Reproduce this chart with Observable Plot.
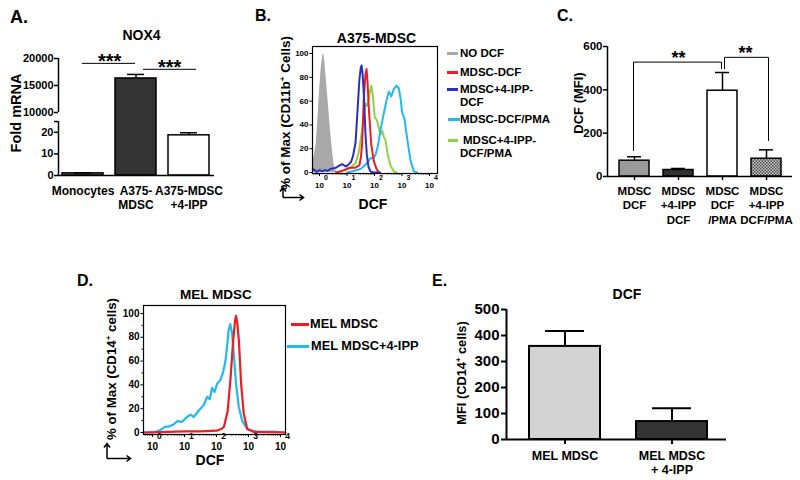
<!DOCTYPE html>
<html><head><meta charset="utf-8">
<script src="https://cdn.jsdelivr.net/npm/d3@7"></script>
<script src="https://cdn.jsdelivr.net/npm/@observablehq/plot@0.6"></script>
<style>
html,body{margin:0;padding:0;background:#fff;}
#fig{position:relative;width:800px;height:480px;overflow:hidden;font-family:"Liberation Sans",Arial,Helvetica,sans-serif;font-weight:bold;color:#000;background:#fff;}
.abs{position:absolute;white-space:nowrap;}
.rot{position:absolute;white-space:nowrap;transform:translate(-50%,-50%) rotate(-90deg);}
.sup{font-size:0.6em;vertical-align:0.6em;}
</style></head><body><div id="fig"></div>
<script>
// ---------------- DATA ----------------
// Panel A: NOX4 fold mRNA (broken y axis)
const A_CATS = ["Monocytes", "A375-\nMDSC", "A375-MDSC\n+4-IPP"];
const A_MEAN = [1, 16300, 18.6];
const A_ERR_TOP = [1.2, 17050, 19.8];
const A_LOWER_TICKS = [0, 10, 20];
const A_UPPER_TICKS = [10000, 15000, 20000];
const A_LOWER = [0, 25];
const A_UPPER = [10000, 20000];
const A_SIG = [
  {from: "Monocytes", to: "A375-\nMDSC", y: 19100, stars: "***"},
  {from: "A375-\nMDSC", to: "A375-MDSC\n+4-IPP", y: 18000, stars: "***"}
];

// Panel B: A375-MDSC histograms (x = log10 DCF, y = % of max)
const B_SERIES = ["NO DCF", "MDSC-DCF", "MDSC+4-IPP-DCF", "MDSC-DCF/PMA", "MDSC+4-IPP-DCF/PMA"];
const B_NO_DCF = [[-0.25,10],[-0.2,13],[-0.12,24],[-0.05,48],[0.0,68],[0.06,87],[0.12,99],[0.15,100],[0.2,91],[0.27,72],[0.33,55],[0.4,35],[0.47,18],[0.53,7],[0.58,2],[0.66,0]];
const B_MDSC_DCF = [[0.6,0],[0.9,2],[1.1,4],[1.3,4],[1.45,6],[1.5,12],[1.55,24],[1.61,62],[1.67,82],[1.71,87],[1.75,75],[1.79,55],[1.88,24],[1.97,10],[2.07,3],[2.16,0]];
const B_IPP_DCF = [[-0.25,3],[-0.18,2],[-0.1,0.5],[0.0,2],[0.1,1],[0.2,2],[0.3,1.5],[0.4,3],[0.52,3.5],[0.6,4],[0.7,5.5],[0.82,7],[0.9,6],[0.97,5],[1.07,7],[1.15,9],[1.22,14],[1.31,25],[1.39,55],[1.45,78],[1.5,88],[1.53,90],[1.57,82],[1.62,62],[1.67,33],[1.72,15],[1.78,5],[1.85,1],[1.95,0],[2.2,0]];
const B_DCF_PMA = [[1.0,0],[1.2,1],[1.49,3],[1.6,5],[1.73,8],[1.85,12],[1.97,12],[2.05,16],[2.12,22],[2.22,36],[2.34,50],[2.44,61],[2.52,68],[2.57,66],[2.61,64],[2.7,70],[2.8,73],[2.88,71],[2.95,62],[3.0,51],[3.09,45],[3.19,28],[3.31,10],[3.43,1],[3.55,0]];
const B_IPP_DCF_PMA = [[0.7,0],[0.9,2],[1.13,4],[1.31,8],[1.43,17],[1.55,36],[1.63,52],[1.67,58],[1.73,56],[1.79,62],[1.85,70],[1.88,73],[1.92,68],[1.95,62],[2.01,46],[2.07,45],[2.13,40],[2.22,32],[2.28,35],[2.34,30],[2.4,27],[2.48,15],[2.58,6],[2.7,1],[2.8,0]];
const PCT_TICKS = [0, 20, 40, 60, 80, 100];
const LOG_DECADES = [0, 1, 2, 3, 4];

// Panel C: DCF MFI
const C_CATS = ["MDSC\nDCF", "MDSC\n+4-IPP\nDCF", "MDSC\nDCF\n/PMA", "MDSC\n+4-IPP\nDCF/PMA"];
const C_MEAN = [73, 30, 396, 82];
const C_ERR_TOP = [91, 37, 480, 123];
const C_Y_TICKS = [0, 200, 400, 600];
const C_BRACKET_1 = [[C_CATS[0], 120], [C_CATS[0], 528], [C_CATS[2], 528], [C_CATS[2], 498]];
const C_BRACKET_2 = [[C_CATS[2], 498], [C_CATS[2], 550], [C_CATS[3], 550], [C_CATS[3], 166]];

// Panel D: MEL MDSC histograms
const D_SERIES = ["MEL MDSC", "MEL MDSC+4-IPP"];
const D_MEL = [[-0.28,0],[0.5,0.5],[1.0,1],[1.5,1],[2.0,1.5],[2.15,3],[2.23,4.5],[2.35,18],[2.44,46],[2.52,77],[2.58,94],[2.61,98],[2.65,92],[2.7,77],[2.77,41],[2.85,16],[2.96,3],[3.17,0.5],[4.15,0]];
const D_MEL_IPP = [[-0.28,0],[0.0,0],[0.1,0.5],[0.25,2],[0.4,5],[0.51,5],[0.67,7],[0.77,9.5],[0.93,9],[1.08,13],[1.19,15],[1.29,13],[1.45,18.5],[1.6,23],[1.71,30],[1.79,28],[1.86,37.5],[1.94,34],[2.02,41],[2.12,44],[2.21,51],[2.28,60],[2.33,72],[2.38,86],[2.43,91],[2.49,83],[2.54,66],[2.61,41],[2.7,21],[2.8,10],[2.96,3],[3.27,0.5],[3.8,0.8],[4.15,0]];

// Panel E: MFI CD14+
const E_CATS = ["MEL MDSC", "MEL MDSC\n+ 4-IPP"];
const E_MEAN = [358, 69];
const E_ERR_TOP = [417, 120];
const E_Y_TICKS = [0, 100, 200, 300, 400, 500];

// ---------------- STYLE ----------------
const FONT = '"Liberation Sans", Arial, Helvetica, sans-serif';
const sty = {background: "transparent", overflow: "visible", fontFamily: FONT, fontWeight: "bold", color: "#000"};
const fig = document.getElementById("fig");

function place(svg, left, top) {
  svg.style.position = "absolute";
  svg.style.left = left + "px";
  svg.style.top = top + "px";
  fig.appendChild(svg);
  return svg;
}
function txt(html, x, base, size, anchor) {
  const d = document.createElement("div");
  d.className = "abs";
  d.innerHTML = html;
  d.style.fontSize = size + "px";
  d.style.lineHeight = size + "px";
  d.style.top = (base - 0.8465 * size) + "px";
  d.style.left = x + "px";
  if (anchor === "middle") d.style.transform = "translateX(-50%)";
  fig.appendChild(d);
}
function vtxt(html, cx, cy, size) {
  const d = document.createElement("div");
  d.className = "rot";
  d.innerHTML = html;
  d.style.fontSize = size + "px";
  d.style.lineHeight = size + "px";
  d.style.left = cx + "px";
  d.style.top = cy + "px";
  fig.appendChild(d);
}
function swatch(x1, x2, y, color) {
  const d = document.createElement("div");
  d.className = "abs";
  d.style.left = x1 + "px";
  d.style.top = (y - 1.25) + "px";
  d.style.width = (x2 - x1) + "px";
  d.style.height = "2.5px";
  d.style.background = color;
  fig.appendChild(d);
}
const logMinor = [];
for (let d = -1; d < 5; d++) for (let k = 2; k < 10; k++) logMinor.push(d + Math.log10(k));

// ---------------- PANEL A (two stacked segments) ----------------
const aData = A_CATS.map((c, i) => ({cat: c, mean: A_MEAN[i], top: A_ERR_TOP[i]}));
const aW = 230, aML = 58, aMR = 16, aPI = 0.22, aPO = 0.075;
const aFrameW = aW - aML - aMR;
const aStep = aFrameW / (A_CATS.length - aPI + 2 * aPO);
const aX = {domain: A_CATS, paddingInner: aPI, paddingOuter: aPO, axis: null};
const aColor = {domain: A_CATS, range: ["#7f7f7f", "#333333", "#ffffff"]};
// upper segment: 20000 at y=58, 10000 at y=112, frame continues to y=121 (break gap)
const aUpperPxPerUnit = (112 - 58) / (A_UPPER[1] - A_UPPER[0]);
const aUpperMin = A_UPPER[0] - (121 - 112) / aUpperPxPerUnit;
place(Plot.plot({
  width: aW, height: 122, marginLeft: aML, marginRight: aMR, marginTop: 58, marginBottom: 1,
  x: aX,
  y: {domain: [aUpperMin, A_UPPER[1]], axis: null},
  color: aColor,
  style: sty,
  marks: [
    Plot.barY(aData, {x: "cat", y: "mean", fill: "cat", stroke: "#000", strokeWidth: 1.5, clip: true}),
    Plot.ruleX(aData.filter(d => d.top > A_UPPER[0]), {x: "cat", y1: "mean", y2: "top", strokeWidth: 1.5}),
    Plot.tickY(aData.filter(d => d.top > A_UPPER[0]), {x: "cat", y: "top", strokeWidth: 1.5, insetLeft: 12, insetRight: 12}),
    Plot.ruleX([A_UPPER], {x: null, y1: d => d[0], y2: d => d[1], dx: -aFrameW / 2, strokeWidth: 1.5}),
    Plot.axisY({ticks: A_UPPER_TICKS, tickFormat: d => String(d), tickSize: 4, tickPadding: 1, fontSize: 11, strokeWidth: 1.5, label: null}),
    Plot.link([A_SIG[0]], {x1: "from", x2: "to", y1: "y", y2: "y", strokeWidth: 1, dx: -1}),
    Plot.link([A_SIG[1]], {x1: "from", x2: "to", y1: "y", y2: "y", strokeWidth: 1, dx: 7}),
    Plot.text([A_SIG[0]], {x: "from", y: "y", text: "stars", dx: aStep / 2, dy: -2, fontSize: 20}),
    Plot.text([A_SIG[1]], {x: "from", y: "y", text: "stars", dx: aStep / 2 + 7, dy: -2, fontSize: 20})
  ]
}), 0, 0);
// lower segment: 0 at y=175, 25 at y=121
place(Plot.plot({
  width: aW, height: 115, marginLeft: aML, marginRight: aMR, marginTop: 21, marginBottom: 40,
  x: aX,
  y: {domain: A_LOWER, axis: null},
  color: aColor,
  style: sty,
  marks: [
    Plot.barY(aData, {x: "cat", y: "mean", fill: "cat", stroke: "#000", strokeWidth: 1.5, clip: true}),
    Plot.ruleX(aData.filter(d => d.top < A_LOWER[1]), {x: "cat", y1: "mean", y2: "top", strokeWidth: 1.5}),
    Plot.tickY(aData.filter(d => d.top < A_LOWER[1]), {x: "cat", y: "top", strokeWidth: 1.5, insetLeft: 12, insetRight: 12}),
    Plot.ruleY([0], {strokeWidth: 1.5}),
    Plot.ruleX([A_LOWER], {x: null, y1: d => d[0], y2: d => d[1], dx: -aFrameW / 2, strokeWidth: 1.5}),
    Plot.axisY({ticks: A_LOWER_TICKS, tickFormat: d => String(d), tickSize: 4, tickPadding: 1, fontSize: 11, strokeWidth: 1.5, label: null}),
    Plot.axisY({ticks: [A_LOWER[1]], tickFormat: () => "", tickSize: 4, strokeWidth: 1.5, label: null}),
    Plot.axisX({tickSize: 0, tickPadding: 10, fontSize: 12, lineHeight: 1.15, label: null})
  ]
}), 0, 100);

// ---------------- PANEL B ----------------
const B_COLORS = ["#a9a9a9", "#ee1d23", "#2b2fc4", "#22b9ee", "#8cd443"];
const bCurves = [
  {name: B_SERIES[4], pts: B_IPP_DCF_PMA},
  {name: B_SERIES[3], pts: B_DCF_PMA},
  {name: B_SERIES[1], pts: B_MDSC_DCF},
  {name: B_SERIES[2], pts: B_IPP_DCF}
];
const bFlat = bCurves.flatMap(c => c.pts.map(p => ({name: c.name, x: p[0], y: p[1]})));
const bDomX = [-0.2545, 4.29];
place(Plot.plot({
  width: 190, height: 190, marginLeft: 50, marginRight: 15, marginTop: 16, marginBottom: 47,
  x: {domain: bDomX, axis: null},
  y: {domain: [-0.84, 105.9], axis: null},
  color: {domain: B_SERIES, range: B_COLORS},
  style: sty,
  marks: [
    Plot.areaY(B_NO_DCF, {x: d => d[0], y: d => d[1], fill: () => B_SERIES[0]}),
    Plot.line(bFlat, {x: "x", y: "y", z: "name", stroke: "name", strokeWidth: 2}),
    Plot.frame({strokeWidth: 1.2}),
    Plot.axisY({ticks: PCT_TICKS, tickSize: 2.5, tickPadding: 1.5, fontSize: 8, label: null}),
    Plot.axisX({ticks: LOG_DECADES, tickFormat: () => "10", tickSize: 3, tickPadding: 6, fontSize: 8, label: null}),
    Plot.axisX({ticks: logMinor.filter(v => v > bDomX[0] && v < bDomX[1]), tickFormat: () => "", tickSize: 1.5, label: null}),
    Plot.text(LOG_DECADES, {x: d => d, text: d => String(d), frameAnchor: "bottom", dx: 6.5, dy: 6.5, fontSize: 7})
  ]
}), 262, 30);

// ---------------- PANEL C ----------------
const cData = C_CATS.map((c, i) => ({cat: c, mean: C_MEAN[i], top: C_ERR_TOP[i]}));
const cW = 280, cML = 87, cMR = 8;
const cFrameW = cW - cML - cMR;
const svgC = Plot.plot({
  width: cW, height: 230, marginLeft: cML, marginRight: cMR, marginTop: 46, marginBottom: 54,
  x: {domain: C_CATS, paddingInner: 0.32, paddingOuter: 0.26, axis: null},
  y: {domain: [0, 600], axis: null},
  color: {domain: C_CATS, range: ["#9a9a9a", "#303030", "#ffffff", "url(#hatchC)"]},
  style: sty,
  marks: [
    Plot.barY(cData, {x: "cat", y: "mean", fill: "cat", stroke: "#000", strokeWidth: 1.5}),
    Plot.ruleX(cData, {x: "cat", y1: "mean", y2: "top", strokeWidth: 1.5}),
    Plot.tickY(cData, {x: "cat", y: "top", strokeWidth: 1.5, insetLeft: 8, insetRight: 8}),
    Plot.ruleY([0], {strokeWidth: 1.5}),
    Plot.ruleX([[0, 600]], {x: null, y1: d => d[0], y2: d => d[1], dx: -cFrameW / 2, strokeWidth: 1.5}),
    Plot.axisY({ticks: C_Y_TICKS, tickSize: 4, tickPadding: 1, fontSize: 11.5, strokeWidth: 1.5, label: null}),
    Plot.axisX({tickSize: 4, tickPadding: 5, fontSize: 11.5, lineHeight: 1.22, strokeWidth: 1.5, label: null}),
    Plot.line(C_BRACKET_1, {x: d => d[0], y: d => d[1], strokeWidth: 1, dx: -1}),
    Plot.line(C_BRACKET_2, {x: d => d[0], y: d => d[1], strokeWidth: 1, dx: 2}),
    Plot.text([C_BRACKET_1[1]], {x: () => C_CATS[1], y: d => d[1], text: () => "**", dy: -4, fontSize: 18}),
    Plot.text([C_BRACKET_2[1]], {x: () => C_CATS[3], y: d => d[1], text: () => "**", dx: -21, dy: -4, fontSize: 18})
  ]
});
const defs = d3.select(svgC).insert("defs", ":first-child");
const pat = defs.append("pattern").attr("id", "hatchC").attr("width", 3).attr("height", 3).attr("patternUnits", "userSpaceOnUse");
pat.append("rect").attr("width", 3).attr("height", 3).attr("fill", "#c4c4c4");
pat.append("rect").attr("width", 1.5).attr("height", 1.5).attr("fill", "#505050");
pat.append("rect").attr("x", 1.5).attr("y", 1.5).attr("width", 1.5).attr("height", 1.5).attr("fill", "#505050");
place(svgC, 520, 0);

// ---------------- PANEL D ----------------
const D_COLORS = ["#ee1d23", "#22b9ee"];
const dFlat = [{name: D_SERIES[1], pts: D_MEL_IPP}, {name: D_SERIES[0], pts: D_MEL}]
  .flatMap(c => c.pts.map(p => ({name: c.name, x: p[0], y: p[1]})));
const dDomX = [-0.28, 4.156];
place(Plot.plot({
  width: 200, height: 180, marginLeft: 50, marginRight: 8, marginTop: 15, marginBottom: 36,
  x: {domain: dDomX, axis: null},
  y: {domain: [-1.68, 106.7], axis: null},
  color: {domain: D_SERIES, range: D_COLORS},
  style: sty,
  marks: [
    Plot.line(dFlat, {x: "x", y: "y", z: "name", stroke: "name", strokeWidth: 2.2}),
    Plot.frame({strokeWidth: 1.2}),
    Plot.axisY({ticks: PCT_TICKS, tickSize: 2.5, tickPadding: 1.5, fontSize: 10, label: null}),
    Plot.axisY({ticks: [10, 30, 50, 70, 90], tickFormat: () => "", tickSize: 1.5, label: null}),
    Plot.axisX({ticks: LOG_DECADES, tickFormat: () => "10", tickSize: 3, tickPadding: 5, fontSize: 10, label: null}),
    Plot.axisX({ticks: logMinor.filter(v => v > dDomX[0] && v < dDomX[1]), tickFormat: () => "", tickSize: 1.5, label: null}),
    Plot.text(LOG_DECADES, {x: d => d, text: d => String(d), frameAnchor: "bottom", dx: 7, dy: 4, fontSize: 8.5})
  ]
}), 93, 290);

// ---------------- PANEL E ----------------
const eData = E_CATS.map((c, i) => ({cat: c, mean: E_MEAN[i], top: E_ERR_TOP[i]}));
const eW = 310, eML = 86, eMR = 4;
const eFrameW = eW - eML - eMR;
place(Plot.plot({
  width: eW, height: 190, marginLeft: eML, marginRight: eMR, marginTop: 19, marginBottom: 41,
  x: {domain: E_CATS, paddingInner: 0.335, paddingOuter: 0.19, align: 0.56, axis: null},
  y: {domain: [0, 500], axis: null},
  color: {domain: E_CATS, range: ["#d3d3d3", "#333333"]},
  style: sty,
  marks: [
    Plot.barY(eData, {x: "cat", y: "mean", fill: "cat", stroke: "#000", strokeWidth: 2}),
    Plot.ruleX(eData, {x: "cat", y1: "mean", y2: "top", strokeWidth: 2}),
    Plot.tickY(eData, {x: "cat", y: "top", strokeWidth: 2, insetLeft: 16, insetRight: 16}),
    Plot.ruleY([0], {strokeWidth: 2}),
    Plot.ruleX([[0, 500]], {x: null, y1: d => d[0], y2: d => d[1], dx: -eFrameW / 2, strokeWidth: 2}),
    Plot.axisY({ticks: E_Y_TICKS, tickSize: 5, tickPadding: 2, fontSize: 15, strokeWidth: 2, label: null}),
    Plot.axisX({tickSize: 5, tickPadding: 6, fontSize: 12.5, lineHeight: 1.12, strokeWidth: 2, label: null})
  ]
}), 420, 290);

// ---------------- TEXT, LEGENDS, ARROWS ----------------
txt("A.", 10, 23, 18);
txt("B.", 255, 22, 16);
txt("C.", 557, 22, 16);
txt("D.", 77, 287, 16);
txt("E.", 432, 287, 16);

txt("NOX4", 141.5, 40, 14, "middle");
txt("A375-MDSC", 376.5, 43, 14, "middle");
txt("MEL MDSC", 216, 299, 13.5, "middle");
txt("DCF", 627, 299, 14, "middle");

vtxt("Fold mRNA", 16, 112.5, 14.5);
vtxt('% of Max (CD11b<span class="sup">+</span> Cells)', 284, 112.5, 13.5);
vtxt("DCF (MFI)", 578, 102.5, 13);
vtxt('% of Max (CD14<span class="sup">+</span> cells)', 110, 368.5, 13.3);
vtxt('MFI (CD14<span class="sup">+</span> cells)', 461, 372.5, 12.8);

txt("DCF", 373, 208.5, 14, "middle");
txt("DCF", 210, 464.5, 14, "middle");

// legend B
const bLegend = [
  {i: 0, lines: ["NO DCF"], base: 58, x1: 447, x2: 458, tx: 460},
  {i: 1, lines: ["MDSC-DCF"], base: 77, x1: 447, x2: 458, tx: 460},
  {i: 2, lines: ["MDSC+4-IPP-", "DCF"], base: 94, x1: 447, x2: 458, tx: 460},
  {i: 3, lines: ["MDSC-DCF/PMA"], base: 124, x1: 448, x2: 460, tx: 460},
  {i: 4, lines: ["MDSC+4-IPP-", "DCF/PMA"], base: 145, x1: 448, x2: 458, tx: 463}
];
for (const e of bLegend) {
  swatch(e.x1, e.x2, e.base - 4.5, B_COLORS[e.i]);
  txt(e.lines[0], e.tx, e.base, 11.5);
  if (e.lines[1]) txt(e.lines[1], 460, e.base + 13, 11.5);
}
// legend D
swatch(291, 309, 324.5, D_COLORS[0]);
txt(D_SERIES[0], 310, 329, 12.8);
swatch(287, 309, 346.5, D_COLORS[1]);
txt(D_SERIES[1], 311, 351, 12.8);

// axis-direction arrows (decoration)
const arrows = document.createElementNS("http://www.w3.org/2000/svg", "svg");
arrows.setAttribute("width", 800); arrows.setAttribute("height", 480);
arrows.style.position = "absolute"; arrows.style.left = "0px"; arrows.style.top = "0px"; arrows.style.pointerEvents = "none";
arrows.innerHTML =
  '<path d="M283,197.5 V188 M280,191.5 L283,187.5 L286,191.5 M283,197.5 H303 M299.5,194.5 L303.5,197.5 L299.5,200.5" fill="none" stroke="#000" stroke-width="1.5"/>' +
  '<path d="M107,458.5 V444 M104,447.5 L107,443.5 L110,447.5 M107,458.5 H130 M126.5,455.5 L130.5,458.5 L126.5,461.5" fill="none" stroke="#000" stroke-width="1.5"/>';
fig.appendChild(arrows);
</script></body></html>
